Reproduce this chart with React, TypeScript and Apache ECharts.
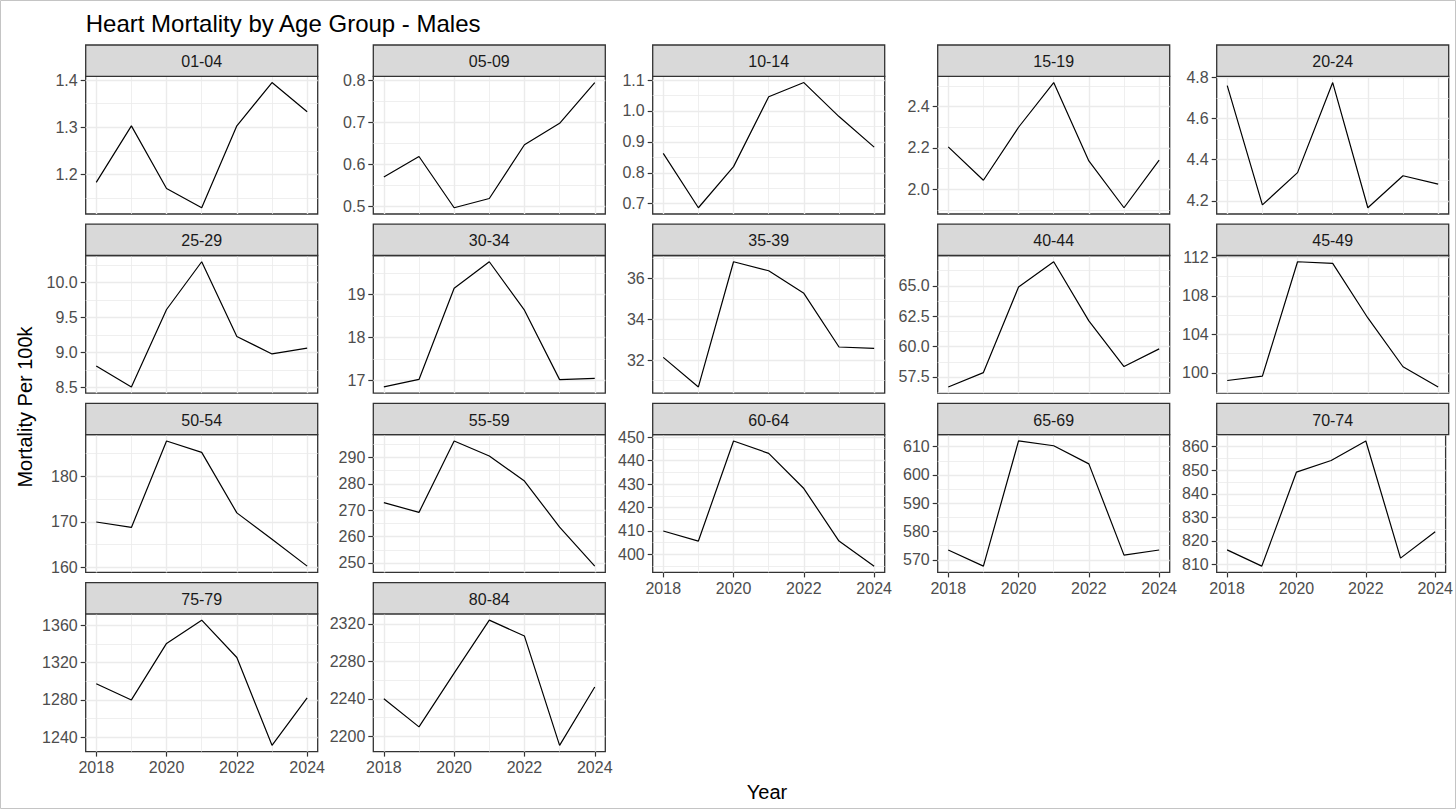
import React, { useEffect, useRef } from "react";
import * as echarts from "echarts";

const years = [2018, 2019, 2020, 2021, 2022, 2023, 2024];
const xTickValues = [2018, 2020, 2022, 2024];

const groups = [
  "01-04", "05-09", "10-14", "15-19", "20-24",
  "25-29", "30-34", "35-39", "40-44", "45-49",
  "50-54", "55-59", "60-64", "65-69", "70-74",
  "75-79", "80-84",
];

const v0104 = [1.183, 1.303, 1.17, 1.129, 1.303, 1.395, 1.333];
const v0509 = [0.569, 0.618, 0.496, 0.518, 0.646, 0.697, 0.794];
const v1014 = [0.863, 0.687, 0.82, 1.046, 1.092, 0.982, 0.883];
const v1519 = [2.205, 2.044, 2.3, 2.516, 2.137, 1.911, 2.141];
const v2024 = [4.761, 4.18, 4.337, 4.776, 4.166, 4.322, 4.281];
const v2529 = [8.807, 8.509, 9.614, 10.295, 9.229, 8.98, 9.062];
const v3034 = [16.846, 17.02, 19.14, 19.757, 18.63, 17.016, 17.047];
const v3539 = [32.13, 30.68, 36.82, 36.38, 35.27, 32.64, 32.57];
const v4044 = [56.68, 57.86, 64.9, 66.98, 62.12, 58.36, 59.81];
const v4549 = [99.2, 99.65, 111.54, 111.37, 105.7, 100.63, 98.53];
const v5054 = [170.0, 168.8, 187.8, 185.3, 172.0, 166.2, 160.3];
const v5559 = [272.9, 269.2, 296.3, 290.6, 281.1, 263.6, 248.8];
const v6064 = [410.0, 405.7, 448.4, 443.1, 428.1, 405.7, 395.0];
const v6569 = [573.5, 567.8, 612.0, 610.3, 603.9, 571.7, 573.5];
const v7074 = [816.2, 809.3, 849.2, 854.1, 862.4, 812.7, 823.9];
const v7579 = [1297.3, 1280.0, 1340.5, 1365.4, 1325.4, 1231.4, 1282.2];
const v8084 = [2240.0, 2210.0, 2267.5, 2324.0, 2307.0, 2190.3, 2252.6];

const seriesValues = [
  v0104, v0509, v1014, v1519, v2024,
  v2529, v3034, v3539, v4044, v4549,
  v5054, v5559, v6064, v6569, v7074,
  v7579, v8084,
];

const yTicks = [
  [1.2, 1.3, 1.4],
  [0.5, 0.6, 0.7, 0.8],
  [0.7, 0.8, 0.9, 1.0, 1.1],
  [2.0, 2.2, 2.4],
  [4.2, 4.4, 4.6, 4.8],
  [8.5, 9.0, 9.5, 10.0],
  [17, 18, 19],
  [32, 34, 36],
  [57.5, 60.0, 62.5, 65.0],
  [100, 104, 108, 112],
  [160, 170, 180],
  [250, 260, 270, 280, 290],
  [400, 410, 420, 430, 440, 450],
  [570, 580, 590, 600, 610],
  [810, 820, 830, 840, 850, 860],
  [1240, 1280, 1320, 1360],
  [2200, 2240, 2280, 2320],
];

const yDecimals = [1, 1, 1, 1, 1, 1, 0, 0, 1, 0, 0, 0, 0, 0, 0, 0, 0];

const titleText = "Heart Mortality by Age Group - Males";
const yTitle = "Mortality Per 100k";
const xTitle = "Year";

// layout
const colLeft = [85.7, 373.3, 652.7, 937.7, 1216.7];
const panelW = 232;
const rowTop = [45, 224.2, 403.4, 582.6];
const stripH = 31.3;
const plotH = 137.7;
const FONT = "'Liberation Sans', Arial, sans-serif";
const GRID_COLOR = "#EBEBEB";

function expandRange(vals: number[]) {
  const lo = Math.min(...vals);
  const hi = Math.max(...vals);
  const pad = (hi - lo) * 0.05;
  return [lo - pad, hi + pad];
}

function minorBreaks(major: number[], lo: number, hi: number) {
  const out: number[] = [];
  const step = major[1] - major[0];
  const ext = [major[0] - step, ...major, major[major.length - 1] + step];
  for (let k = 0; k < ext.length - 1; k++) {
    const m = (ext[k] + ext[k + 1]) / 2;
    if (m > lo && m < hi) out.push(m);
  }
  return out;
}

export default function App() {
  const ref = useRef<HTMLDivElement>(null);

  useEffect(() => {
    if (!ref.current) return;
    const chart = echarts.init(ref.current, null, { renderer: "svg" });

    const grids: any[] = [];
    const xAxes: any[] = [];
    const yAxes: any[] = [];
    const series: any[] = [];
    const graphics: any[] = [];

    const xMin = years[0] - (years[years.length - 1] - years[0]) * 0.05;
    const xMax = years[years.length - 1] + (years[years.length - 1] - years[0]) * 0.05;
    const xMinor = [2019, 2021, 2023];

    groups.forEach((g, i) => {
      const row = Math.floor(i / 5);
      const col = i % 5;
      const isBottom = row === 3 || (row === 2 && col >= 2);
      const [yMin, yMax] = expandRange(seriesValues[i]);
      const dec = yDecimals[i];
      const left = colLeft[col];
      const top = rowTop[row];

      grids.push({
        left,
        top: top + stripH,
        width: panelW,
        height: plotH,
        show: true,
        backgroundColor: "#FFFFFF",
        borderColor: "#333333",
        borderWidth: 1.3,
        containLabel: false,
      });

      xAxes.push({
        type: "value",
        gridIndex: i,
        min: xMin,
        max: xMax,
        axisLine: { show: false },
        splitLine: { show: false },
        axisTick: {
          show: isBottom,
          customValues: xTickValues,
          length: 5,
          lineStyle: { color: "#333333", width: 1.2 },
        },
        axisLabel: {
          show: isBottom,
          customValues: xTickValues,
          margin: 8,
          color: "#4D4D4D",
          fontSize: 16,
          fontFamily: FONT,
          formatter: (v: number) => String(Math.round(v)),
        },
      });

      yAxes.push({
        type: "value",
        gridIndex: i,
        min: yMin,
        max: yMax,
        axisLine: { show: false },
        splitLine: { show: false },
        axisTick: {
          show: true,
          customValues: yTicks[i],
          length: 5,
          lineStyle: { color: "#333333", width: 1.2 },
        },
        axisLabel: {
          customValues: yTicks[i],
          margin: 8,
          color: "#4D4D4D",
          fontSize: 16,
          fontFamily: FONT,
          formatter: (v: number) => v.toFixed(dec),
        },
      });

      const yMinor = minorBreaks(yTicks[i], yMin, yMax);
      const gl: any[] = [];
      yMinor.forEach((v) =>
        gl.push({ yAxis: v, lineStyle: { color: GRID_COLOR, width: 0.8, type: "solid" } })
      );
      xMinor.forEach((v) =>
        gl.push({ xAxis: v, lineStyle: { color: GRID_COLOR, width: 0.8, type: "solid" } })
      );
      yTicks[i].forEach((v) =>
        gl.push({ yAxis: v, lineStyle: { color: GRID_COLOR, width: 1.4, type: "solid" } })
      );
      xTickValues.forEach((v) =>
        gl.push({ xAxis: v, lineStyle: { color: GRID_COLOR, width: 1.4, type: "solid" } })
      );

      const pts = years.map((y, j) => [y, seriesValues[i][j]]);

      series.push({
        type: "line",
        xAxisIndex: i,
        yAxisIndex: i,
        data: pts,
        silent: true,
        showSymbol: false,
        symbol: "none",
        lineStyle: { opacity: 0, width: 0 },
        z: 1,
        markLine: {
          silent: true,
          symbol: ["none", "none"],
          label: { show: false },
          z: 1,
          animation: false,
          emphasis: { disabled: true },
          data: gl,
        },
      });

      series.push({
        type: "line",
        xAxisIndex: i,
        yAxisIndex: i,
        data: pts,
        showSymbol: false,
        symbol: "none",
        silent: true,
        lineStyle: { color: "#000000", width: 1.2 },
        z: 3,
      });

      graphics.push({
        type: "rect",
        z: 10,
        shape: { x: left, y: top, width: panelW, height: stripH },
        style: { fill: "#D9D9D9", stroke: "#333333", lineWidth: 1.3 },
      });
      graphics.push({
        type: "text",
        z: 11,
        x: left + panelW / 2,
        y: top + stripH / 2 + 1,
        style: {
          text: g,
          fill: "#1A1A1A",
          font: `16px ${FONT}`,
          textAlign: "center",
          textVerticalAlign: "middle",
        },
      });
    });

    graphics.push({
      type: "rect",
      z: 0,
      shape: { x: 0.5, y: 0.5, width: 1455, height: 808 },
      style: { fill: "none", stroke: "#C4C4C4", lineWidth: 1 },
    });
    graphics.push({
      type: "text",
      z: 11,
      x: 85.7,
      y: 23,
      style: {
        text: titleText,
        fill: "#000000",
        font: `24px ${FONT}`,
        textAlign: "left",
        textVerticalAlign: "middle",
      },
    });
    graphics.push({
      type: "text",
      z: 11,
      x: 25,
      y: 407,
      rotation: Math.PI / 2,
      style: {
        text: yTitle,
        fill: "#000000",
        font: `20px ${FONT}`,
        textAlign: "center",
        textVerticalAlign: "middle",
      },
    });
    graphics.push({
      type: "text",
      z: 11,
      x: 767,
      y: 792,
      style: {
        text: xTitle,
        fill: "#000000",
        font: `20px ${FONT}`,
        textAlign: "center",
        textVerticalAlign: "middle",
      },
    });

    chart.setOption({
      animation: false,
      backgroundColor: "#FFFFFF",
      grid: grids,
      xAxis: xAxes,
      yAxis: yAxes,
      series,
      graphic: { elements: graphics },
    });

    return () => chart.dispose();
  }, []);

  return (
    <div
      ref={ref}
      style={{ position: "absolute", left: 0, top: 0, width: 1456, height: 810, background: "#fff" }}
    />
  );
}
